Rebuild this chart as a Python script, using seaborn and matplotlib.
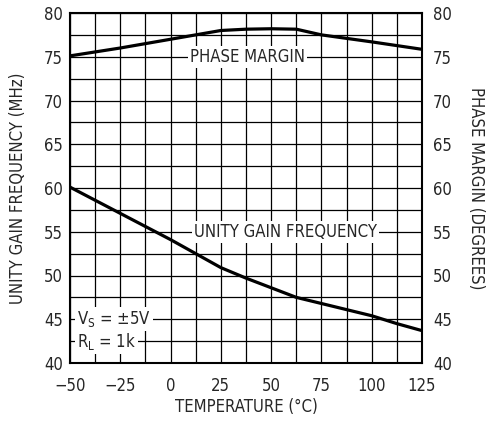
import matplotlib
matplotlib.use("Agg")
import matplotlib.pyplot as plt
import numpy as np
import pandas as pd
import seaborn as sns

# data
temp_pm = [-50, -25, 0, 25, 37.5, 50, 62.5, 75, 100, 125]
phase_margin = [75.1, 76.0, 77.0, 78.0, 78.15, 78.2, 78.15, 77.5, 76.7, 75.85]

temp_ugf = [-50, -37.5, -25, -12.5, 0, 12.5, 25, 37.5, 50, 62.5, 75, 87.5, 100, 112.5, 125]
unity_gain = [60.1, 58.6, 57.1, 55.6, 54.1, 52.5, 50.9, 49.7, 48.6, 47.5, 46.8, 46.1, 45.4, 44.5, 43.7]

x_ticks = [-50, -25, 0, 25, 50, 75, 100, 125]
y_ticks = [40, 45, 50, 55, 60, 65, 70, 75, 80]

sns.set_style("white")
plt.rcParams['font.family'] = ['DejaVu Sans']
plt.rcParams['font.stretch'] = 'condensed'

df_pm = pd.DataFrame({"t": temp_pm, "v": phase_margin})
df_ugf = pd.DataFrame({"t": temp_ugf, "v": unity_gain})

fig = plt.figure(figsize=(4.88, 4.21), dpi=100)
ax = fig.add_axes([70 / 488, 1 - 363 / 421, 352 / 488, 350 / 421])

sns.lineplot(data=df_pm, x="t", y="v", ax=ax, color="black", linewidth=2.3)
sns.lineplot(data=df_ugf, x="t", y="v", ax=ax, color="black", linewidth=2.3)

ax.set_xlim(-50, 125)
ax.set_ylim(40, 80)
ax.set_xticks(x_ticks)
ax.set_yticks(y_ticks)
ax.set_xticks(np.arange(-50, 126, 12.5), minor=True)
ax.set_yticks(np.arange(40, 81, 2.5), minor=True)
ax.grid(True, which="both", color="black", linewidth=0.9)
ax.set_axisbelow(True)
ax.tick_params(axis="x", which="both", length=0, labelsize=12, pad=10)
ax.tick_params(axis="y", which="both", length=0, labelsize=12, pad=5)
for s in ax.spines.values():
    s.set_linewidth(1.5)
    s.set_color("black")

ax.set_xlabel("TEMPERATURE (°C)", fontsize=12, labelpad=2)
ax.set_ylabel("UNITY GAIN FREQUENCY (MHz)", fontsize=12, labelpad=12)

ax2 = ax.twinx()
ax2.set_ylim(40, 80)
ax2.set_yticks(y_ticks)
ax2.tick_params(length=0, labelsize=12, pad=8)
ax2.set_ylabel("PHASE MARGIN (DEGREES)", fontsize=12, rotation=-90, labelpad=24)
for s in ax2.spines.values():
    s.set_visible(False)

box = dict(facecolor="white", edgecolor="none", pad=1.5)
ax.text(38, 75, "PHASE MARGIN", fontsize=12, ha="center", va="center", bbox=box)
ax.text(57, 55, "UNITY GAIN FREQUENCY", fontsize=12, ha="center", va="center", bbox=box)
ax.text(-46.5, 45, "V$_\\mathregular{S}$ = ±5V", fontsize=12, ha="left", va="center", bbox=box)
ax.text(-46.5, 42.5, "R$_\\mathregular{L}$ = 1k", fontsize=12, ha="left", va="center", bbox=box)

fig.savefig("out.png", dpi=100)
